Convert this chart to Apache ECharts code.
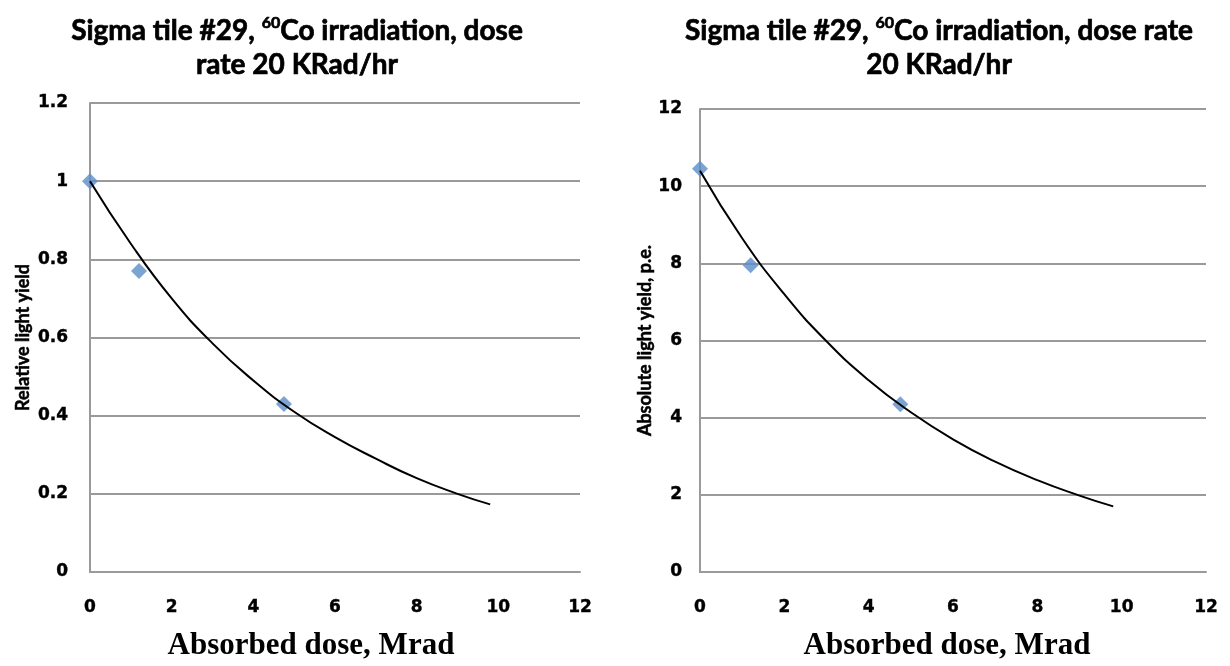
<!DOCTYPE html>
<html>
<head>
<meta charset="utf-8">
<script src="https://cdn.jsdelivr.net/npm/echarts@6/dist/echarts.min.js"></script>
<style>html,body{margin:0;padding:0;background:#fff;}#c{width:1230px;height:666px;}</style>
</head>
<body>
<div id="c"></div>
<script>
// Measured points
const doseMeasured = [0, 1.2, 4.75];
const relativeYield = [1.0, 0.77, 0.43];
const absoluteYield = [10.45, 7.95, 4.35];
// Trend line (exponential fit)
const doseTrend = [0, 1, 2, 3, 4, 5, 6, 7, 8, 9, 9.8];
const relativeTrend = [1.0, 0.84, 0.70, 0.585, 0.49, 0.41, 0.345, 0.29, 0.24, 0.20, 0.173];
const absoluteTrend = [10.4, 8.65, 7.2, 5.98, 4.97, 4.14, 3.44, 2.86, 2.38, 1.98, 1.7];
const xTicks = ['0', '2', '4', '6', '8', '10', '12'];
const yTicksRel = ['0', '0.2', '0.4', '0.6', '0.8', '1', '1.2'];
const yTicksAbs = ['0', '2', '4', '6', '8', '10', '12'];

const pair = (xs, ys) => xs.map((x, i) => [x, ys[i]]);
const gridColor = '#9a9a9a';
const tickFont = {fontFamily: 'DejaVu Sans', fontWeight: 'bold', fontSize: 17, color: '#000',
  textBorderColor: '#000', textBorderWidth: 0.4};
const heavy = {textBorderColor: '#000', textBorderWidth: 0.7};
const titleRich = {
  b: Object.assign({fontFamily: 'Lato', fontWeight: 'bold', fontSize: 28, color: '#000', lineHeight: 34}, heavy),
  s: Object.assign({fontFamily: 'Lato', fontWeight: 'bold', fontSize: 16, color: '#000', lineHeight: 34, verticalAlign: 'top', padding: [1, 0, 0, 0]}, heavy)
};

function xAxis(idx, shift) {
  return {
    type: 'value', gridIndex: idx, min: 0, max: 12, interval: 2,
    axisLine: {show: true, lineStyle: {color: gridColor, width: 2}},
    axisTick: {show: false}, splitLine: {show: false},
    axisLabel: Object.assign({margin: 27, formatter: v => xTicks[Math.round(v / 2)]}, tickFont),
    name: 'Absorbed dose, Mrad', nameLocation: 'middle', nameGap: 58,
    nameTextStyle: {fontFamily: 'Liberation Serif', fontWeight: 'bold', fontSize: 31, color: '#000',
      padding: [0, shift, 0, 0]}
  };
}
function yAxis(idx, max, interval, ticks, name, gap, margin) {
  return {
    type: 'value', gridIndex: idx, min: 0, max: max, interval: interval,
    axisLine: {show: true, lineStyle: {color: gridColor, width: 2}},
    axisTick: {show: false},
    splitLine: {show: true, lineStyle: {color: gridColor, width: 2}},
    axisLabel: Object.assign({margin: margin, formatter: v => ticks[Math.round(v / interval)]}, tickFont),
    name: name, nameLocation: 'middle', nameRotate: 90, nameGap: gap,
    nameTextStyle: Object.assign({fontFamily: 'Lato', fontWeight: 'bold', fontSize: 18, color: '#000'},
      {textBorderColor: '#000', textBorderWidth: 0.5})
  };
}

const chart = echarts.init(document.getElementById('c'));
chart.setOption({
  backgroundColor: '#fff',
  animation: false,
  title: [
    {text: '{b|Sigma tile #29, }{s|60}{b|Co irradiation, dose}\n{b|rate 20 KRad/hr}', left: 292, top: 9, textAlign: 'center',
     textStyle: {rich: titleRich}},
    {text: '{b|Sigma tile #29, }{s|60}{b|Co irradiation, dose rate}\n{b|20 KRad/hr}', left: 934, top: 9, textAlign: 'center',
     textStyle: {rich: titleRich}}
  ],
  grid: [
    {left: 90, top: 103, right: 650, bottom: 93},
    {left: 700, top: 109, right: 24, bottom: 93}
  ],
  xAxis: [xAxis(0, 48), xAxis(1, 12)],
  yAxis: [
    yAxis(0, 1.2, 0.2, yTicksRel, 'Relative light yield', 58, 22),
    yAxis(1, 12, 2, yTicksAbs, 'Absolute light yield, p.e.', 43, 18)
  ],
  series: [
    {type: 'line', xAxisIndex: 0, yAxisIndex: 0, data: pair(doseTrend, relativeTrend), smooth: true,
     showSymbol: false, lineStyle: {color: '#000', width: 2}, z: 3},
    {type: 'scatter', xAxisIndex: 0, yAxisIndex: 0, data: pair(doseMeasured, relativeYield),
     symbol: 'diamond', symbolSize: 16, itemStyle: {color: '#5b8dc8'}, z: 2},
    {type: 'line', xAxisIndex: 1, yAxisIndex: 1, data: pair(doseTrend, absoluteTrend), smooth: true,
     showSymbol: false, lineStyle: {color: '#000', width: 2}, z: 3},
    {type: 'scatter', xAxisIndex: 1, yAxisIndex: 1, data: pair(doseMeasured, absoluteYield),
     symbol: 'diamond', symbolSize: 16, itemStyle: {color: '#5b8dc8'}, z: 2}
  ]
});
</script>
</body>
</html>
